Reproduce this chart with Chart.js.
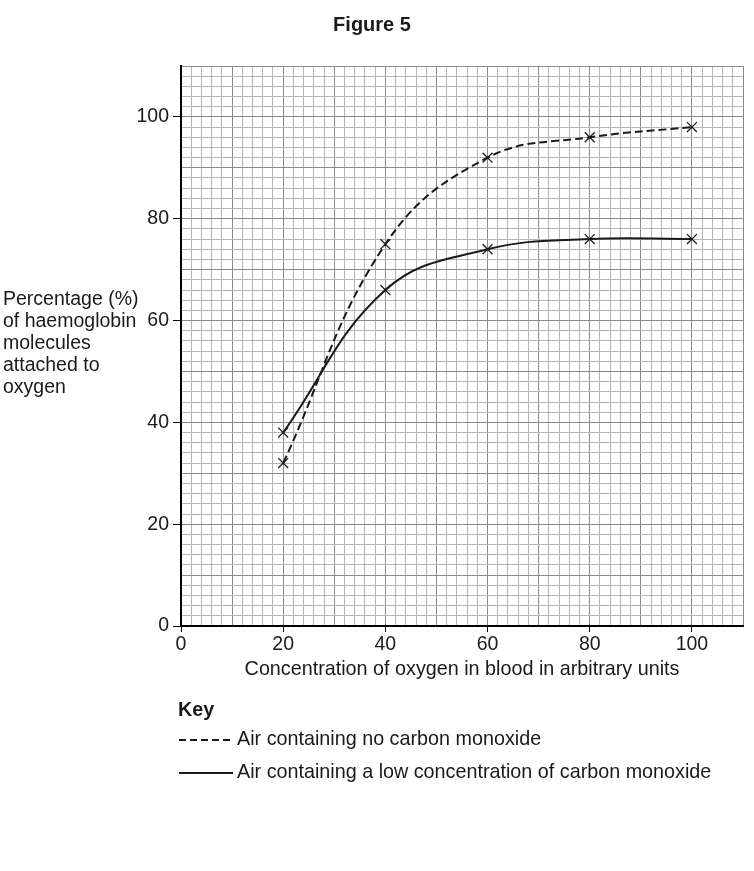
<html>
<head>
<script src="https://cdn.jsdelivr.net/npm/chart.js"></script>
<style>
  body { margin: 0; background: #fff; }
</style>
</head>
<body>
<div style="width:754px;height:871px">
<canvas id="myChart" width="754" height="871"></canvas>
</div>
<script>
var oxygen = [20, 40, 60, 80, 100];
var noCO = [32, 75, 92, 96, 98];
var lowCO = [38, 66, 74, 76, 76];
var yLabelLines = ["Percentage (%)", "of haemoglobin", "molecules", "attached to", "oxygen"];
var legendLabels = ["Air containing no carbon monoxide", "Air containing a low concentration of carbon monoxide"];

var FONT = '"Liberation Sans", Arial, sans-serif';

var toPoints = function(ys) {
  var pts = [];
  for (var i = 0; i < oxygen.length; i++) {
    pts.push({x: oxygen[i], y: ys[i]});
  }
  return pts;
};

var gridColor = function(ctx) {
  if (ctx.tick.value % 10 === 0) return '#8a8a8a';
  return '#b4b4b4';
};
var tickColor = function(ctx) {
  if (ctx.tick && ctx.tick.value % 20 === 0 && ctx.tick.value <= 100) return '#000';
  return 'rgba(0,0,0,0)';
};
var label20 = function(value) {
  if (value % 20 === 0 && value <= 100) return value;
  return '';
};

// extra text: title, y label, key
var extras = {
  id: 'extras',
  afterDraw: function(chart) {
    var c = chart.ctx;
    c.save();
    c.fillStyle = '#1a1a1a';
    c.textBaseline = 'middle';
    c.font = 'bold 20px ' + FONT;
    c.textAlign = 'center';
    c.fillText('Figure 5', 372, 25);

    c.font = '19.5px ' + FONT;
    c.textAlign = 'left';
    for (var i = 0; i < yLabelLines.length; i++) {
      c.fillText(yLabelLines[i], 3, 300 + i * 22);
    }
    c.font = '19.75px ' + FONT;
    c.textAlign = 'center';
    c.fillText('Concentration of oxygen in blood in arbitrary units', 462, 670);

    c.textAlign = 'left';
    c.font = 'bold 19.75px ' + FONT;
    c.fillText('Key', 178, 711);
    c.font = '19.75px ' + FONT;
    c.fillText(legendLabels[0], 237, 740);
    c.fillText(legendLabels[1], 237, 773);

    c.strokeStyle = '#1a1a1a';
    c.lineWidth = 2;
    c.setLineDash([7, 4]);
    c.beginPath();
    c.moveTo(179, 740);
    c.lineTo(233, 740);
    c.stroke();
    c.setLineDash([]);
    c.beginPath();
    c.moveTo(179, 773);
    c.lineTo(233, 773);
    c.stroke();
    c.restore();
  }
};

window.onload = function() {
  var ctx = document.getElementById('myChart').getContext('2d');
  var myChart = new Chart(ctx, {
    type: 'line',
    data: {
      datasets: [
        {
          label: legendLabels[0],
          data: toPoints(noCO),
          borderColor: '#1a1a1a',
          borderWidth: 2,
          borderDash: [8, 4],
          tension: 0.4,
          fill: false,
          pointStyle: 'crossRot',
          pointRadius: 7,
          pointBorderWidth: 1.3,
          pointBorderColor: '#1a1a1a'
        },
        {
          label: legendLabels[1],
          data: toPoints(lowCO),
          borderColor: '#1a1a1a',
          borderWidth: 2,
          tension: 0.4,
          fill: false,
          pointStyle: 'crossRot',
          pointRadius: 7,
          pointBorderWidth: 1.3,
          pointBorderColor: '#1a1a1a'
        }
      ]
    },
    options: {
      responsive: false,
      animation: false,
      layout: { padding: { top: 66, right: 11, left: 0, bottom: 0 } },
      plugins: { legend: { display: false }, tooltip: { enabled: false } },
      scales: {
        x: {
          type: 'linear',
          min: 0,
          max: 110,
          afterFit: function(scale) { scale.height = 245; },
          border: { color: '#000', width: 2 },
          grid: { color: gridColor, tickColor: tickColor, tickLength: 6, lineWidth: 1 },
          ticks: {
            stepSize: 2,
            autoSkip: false,
            maxRotation: 0,
            callback: label20,
            color: '#1a1a1a',
            font: { size: 19.5, family: FONT },
            padding: 1
          }
        },
        y: {
          min: 0,
          max: 110,
          afterFit: function(scale) { scale.width = 181; },
          border: { color: '#000', width: 2 },
          grid: { color: gridColor, tickColor: tickColor, tickLength: 8, lineWidth: 1 },
          ticks: {
            stepSize: 2,
            autoSkip: false,
            callback: label20,
            color: '#1a1a1a',
            font: { size: 19.5, family: FONT },
            padding: 4
          }
        }
      }
    },
    plugins: [extras]
  });
};
</script>
</body>
</html>
